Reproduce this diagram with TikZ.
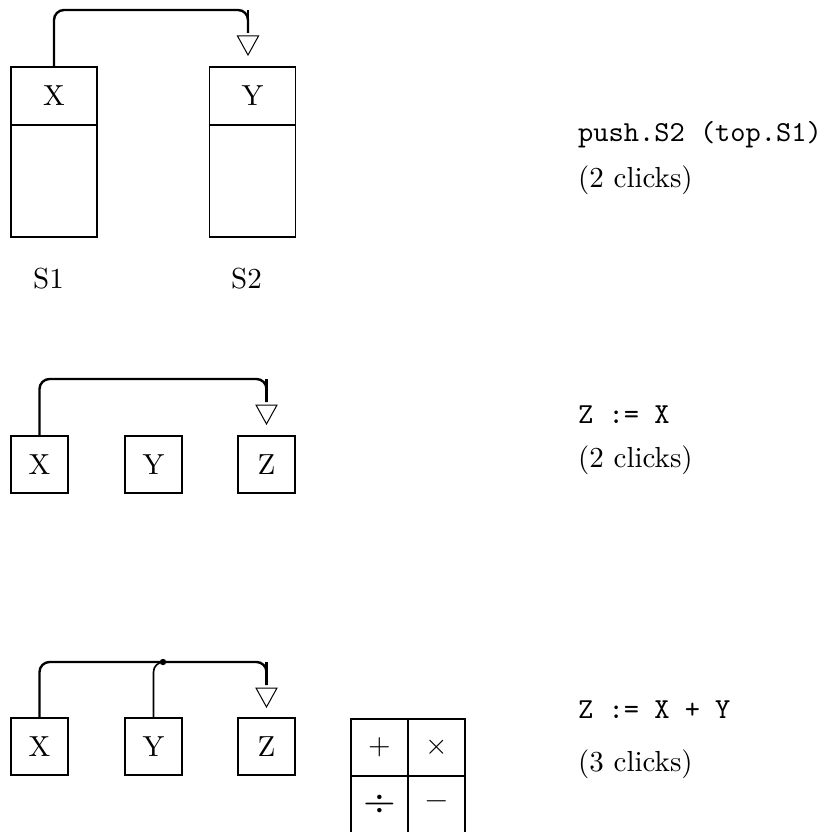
\documentclass[tikz,border=0pt]{standalone}
\usepackage{fontspec}
\setmainfont{lmroman10-regular}[Extension=.otf]
\setmonofont{lmmono10-regular}[Extension=.otf]
\begin{document}
\begin{tikzpicture}[x=1pt,y=-1pt,
  every node/.style={font=\fontsize{29}{35}\selectfont, inner sep=0pt},
  box/.style={draw, line width=1.7pt, minimum width=57pt, minimum height=57pt},
  conn/.style={line width=2.4pt},
  thinconn/.style={line width=1.6pt},
  head/.style={line width=1pt},
  lbl/.style={anchor=base west}]
\useasboundingbox (0,0) rectangle (821,832);
\clip (0,0) rectangle (821,832);

% ---------- row 1: stacks ----------
\node[box, minimum width=86pt, minimum height=58pt] (s1top) at (54,96) {X};
\node[box, minimum width=86pt, minimum height=112pt] (s1bot) at (54,181) {};
\node[box, minimum width=86pt, minimum height=58pt] (s2top) at (252.5,96) {Y};
\node[box, minimum width=86pt, minimum height=112pt] (s2bot) at (252.5,181) {};
\node[anchor=base] (s1lbl) at (48.5,288) {S1};
\node[anchor=base] (s2lbl) at (246.5,288) {S2};

\coordinate (h1) at (248,10);
\coordinate (t1) at (248,36);
\draw[conn, rounded corners=10pt] (s1top.north) |- (h1) -- ([yshift=3pt]t1);
\draw[conn] (h1) -- ([yshift=3pt]t1);
\draw[head] (t1) ++(-10.5,0) -- ++(21,0) -- ++(-10.5,19) -- cycle;

\node[lbl] (c1a) at (578,141) {\ttfamily push.S2 (top.S1)};
\node[lbl] (c1b) at (578,187) {(2 clicks)};

% ---------- row 2 ----------
\node[box] (x2) at (39.5,464.5) {X};
\node[box] (y2) at (153.5,464.5) {Y};
\node[box] (z2) at (266.5,464.5) {Z};
\coordinate (h2) at (266.5,379);
\coordinate (t2) at (266.5,405);
\draw[conn, rounded corners=10pt] (x2.north) |- (h2) -- ([yshift=3pt]t2);
\draw[conn] (h2) -- ([yshift=3pt]t2);
\draw[head] (t2) ++(-10.5,0) -- ++(21,0) -- ++(-10.5,19) -- cycle;

\node[lbl] (c2a) at (578,423) {\ttfamily Z := X};
\node[lbl] (c2b) at (578,467) {(2 clicks)};

% ---------- row 3 ----------
\node[box] (x3) at (39.5,746.5) {X};
\node[box] (y3) at (153.5,746.5) {Y};
\node[box] (z3) at (266.5,746.5) {Z};
\coordinate (h3) at (266.5,662);
\coordinate (t3) at (266.5,688);
\coordinate (dot3) at (163,662);
\draw[conn, rounded corners=10pt] (x3.north) |- (h3) -- ([yshift=3pt]t3);
\draw[conn] (h3) -- ([yshift=3pt]t3);
\draw[thinconn, rounded corners=10pt] (y3.north) |- (dot3);
\fill (dot3) circle (3.2pt);
\draw[head] (t3) ++(-10.5,0) -- ++(21,0) -- ++(-10.5,19) -- cycle;

% operator grid
\node[box] (opplus) at (379.5,747.5) {+};
\node[box] (optimes) at (436.5,747.5) {×};
\node[box, font=\fontsize{42}{42}\selectfont] (opdiv) at (379.5,804.5) {÷};
\node[box] (opminus) at (436.5,804.5) {−};

\node[lbl] (c3a) at (578,718) {\ttfamily Z := X + Y};
\node[lbl] (c3b) at (578,771) {(3 clicks)};
\end{tikzpicture}
\end{document}
